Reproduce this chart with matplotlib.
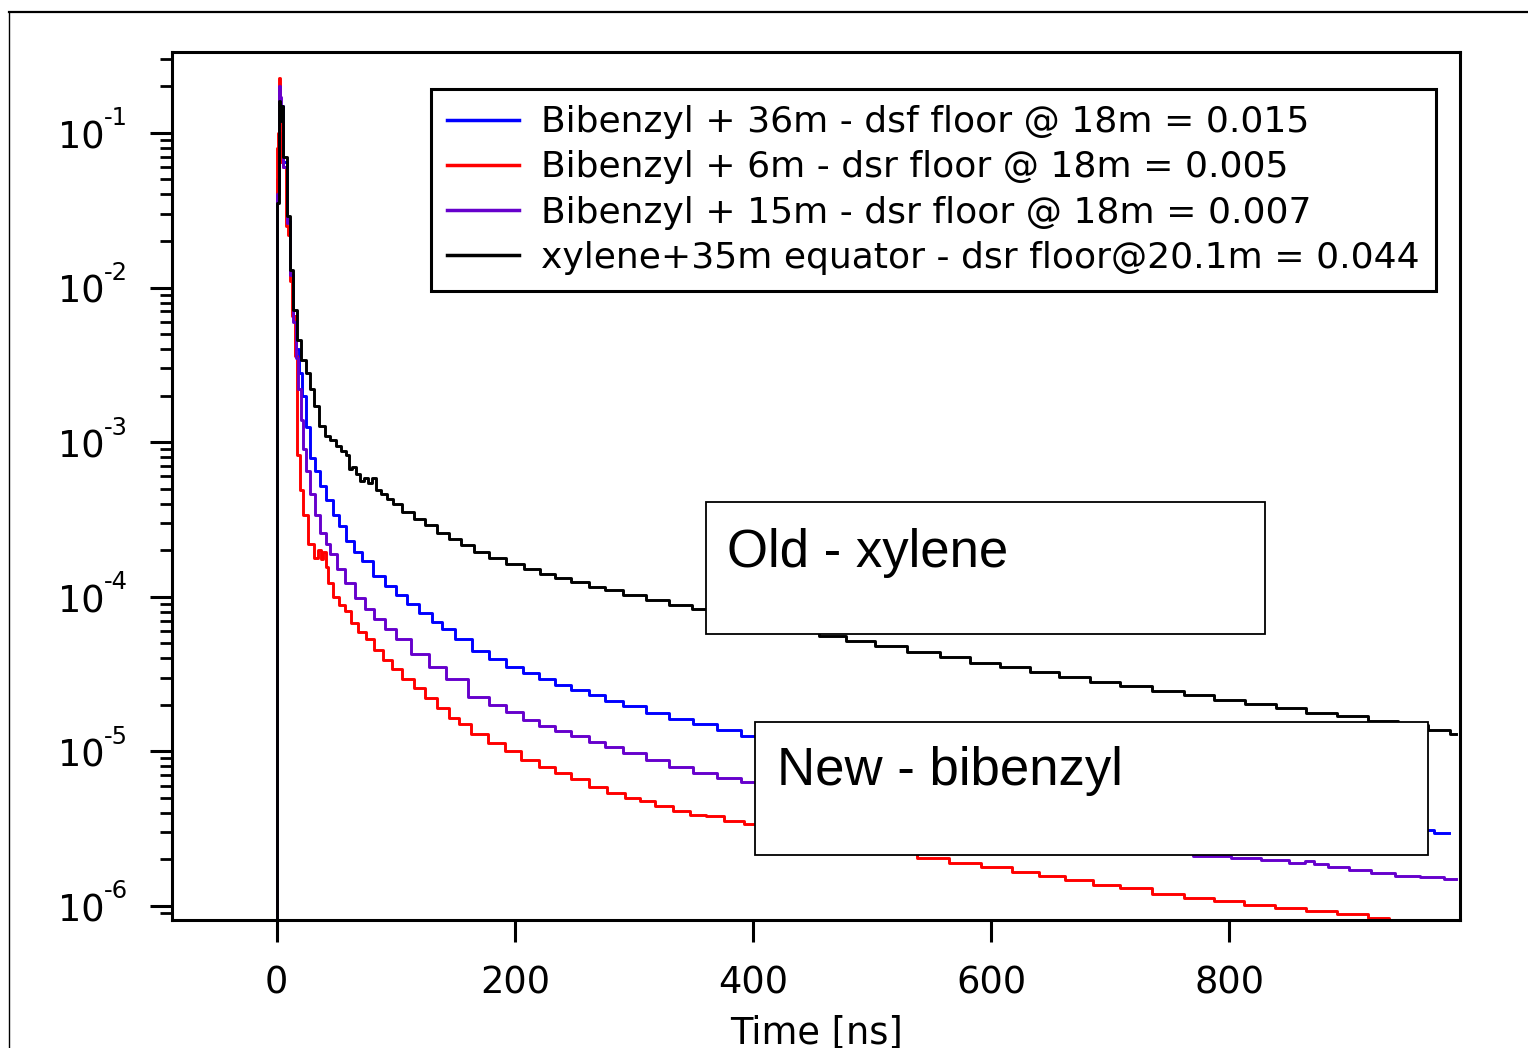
import numpy as np
import matplotlib
matplotlib.use("Agg")
import matplotlib.pyplot as plt
from matplotlib.lines import Line2D
from matplotlib.patches import Rectangle
from matplotlib.ticker import LogLocator, NullFormatter, FixedLocator

# decay curves (time in ns, normalised counts)
blue_t = [0, 1, 2, 3, 4, 6.5, 10, 12.5, 15, 18, 20, 23, 26, 30, 34, 38, 44, 50, 55, 61, 68, 75,
          86, 95, 105, 114, 125, 135, 143, 157, 171, 185, 200, 214, 227, 240, 255, 270, 282,
          300, 320, 339, 360, 380, 400, 450, 500, 550, 600, 650, 700, 750, 800, 850, 900,
          935, 960, 985]
blue_y = [5e-7, 0.05, 0.17, 0.12, 0.15, 0.065, 0.027, 0.012, 6.5e-3, 4.0e-3, 2.8e-3, 2.0e-3,
          1.25e-3, 7.9e-4, 6.5e-4, 5.2e-4, 4.2e-4, 3.4e-4, 2.85e-4, 2.3e-4, 1.95e-4, 1.7e-4,
          1.36e-4, 1.18e-4, 1.03e-4, 9.0e-5, 7.9e-5, 6.9e-5, 6.2e-5, 5.3e-5, 4.45e-5, 3.95e-5,
          3.5e-5, 3.2e-5, 2.94e-5, 2.7e-5, 2.5e-5, 2.3e-5, 2.13e-5, 1.95e-5, 1.78e-5, 1.63e-5,
          1.5e-5, 1.37e-5, 1.26e-5, 1.05e-5, 8.9e-6, 7.7e-6, 6.7e-6, 5.9e-6, 5.2e-6, 4.6e-6,
          4.15e-6, 3.75e-6, 3.4e-6, 3.2e-6, 3.1e-6, 2.95e-6]

red_t = [0, 0.5, 1.5, 2, 3, 4, 6.5, 8.5, 10, 12, 14, 16, 17.6, 21, 23.5, 29.5, 33, 36, 38, 40,
         42, 44.5, 50, 55, 59, 65, 72, 78, 86, 93, 101, 110, 120, 129, 140, 150, 156, 170, 185,
         198, 213, 227, 240, 255, 270, 285, 300, 311, 325, 340, 355, 366, 385, 400, 450, 500,
         525, 551, 578, 605, 630, 650, 675, 697, 720, 750, 775, 800, 825, 852, 878, 904, 929,
         940]
red_y = [5e-7, 0.08, 0.1, 0.227, 0.1, 0.065, 0.06, 0.025, 0.022, 0.011, 6.5e-3, 3.6e-3,
         8.3e-4, 4.9e-4, 3.4e-4, 2.2e-4, 1.78e-4, 2.0e-4, 1.75e-4, 1.95e-4, 1.55e-4, 1.23e-4,
         1.0e-4, 8.8e-5, 8.1e-5, 6.8e-5, 5.9e-5, 5.3e-5, 4.5e-5, 3.9e-5, 3.4e-5, 2.95e-5,
         2.55e-5, 2.2e-5, 1.9e-5, 1.65e-5, 1.5e-5, 1.3e-5, 1.13e-5, 1.0e-5, 8.8e-6, 7.9e-6,
         7.2e-6, 6.6e-6, 5.9e-6, 5.4e-6, 5.0e-6, 4.8e-6, 4.4e-6, 4.1e-6, 3.9e-6, 3.8e-6,
         3.55e-6, 3.4e-6, 2.8e-6, 2.4e-6, 2.2e-6, 2.04e-6, 1.9e-6, 1.78e-6, 1.65e-6, 1.55e-6,
         1.46e-6, 1.37e-6, 1.3e-6, 1.2e-6, 1.13e-6, 1.07e-6, 1.02e-6, 9.7e-7, 9.2e-7, 8.8e-7,
         8.3e-7, 7.5e-7]

purple_t = [0, 1, 2, 3, 4, 6.5, 10, 12.5, 15, 17, 19, 21, 23.5, 26, 30, 34, 39, 43, 47, 54, 61,
            70, 78, 86, 95, 105, 120, 135, 150, 171, 185, 200, 214, 227, 240, 255, 270, 282,
            300, 320, 339, 360, 380, 400, 450, 500, 550, 600, 650, 700, 750, 790, 813, 840,
            860, 867, 875, 891, 910, 929, 950, 970, 991]
purple_y = [5e-7, 0.04, 0.2, 0.17, 0.12, 0.06, 0.026, 0.012, 6.0e-3, 3.5e-3, 2.2e-3, 1.4e-3,
            9.0e-4, 6.5e-4, 4.6e-4, 3.4e-4, 2.6e-4, 2.2e-4, 1.9e-4, 1.5e-4, 1.23e-4, 9.8e-5,
            8.3e-5, 7.2e-5, 6.2e-5, 5.3e-5, 4.27e-5, 3.5e-5, 2.95e-5, 2.25e-5, 2.0e-5, 1.8e-5,
            1.6e-5, 1.46e-5, 1.35e-5, 1.25e-5, 1.15e-5, 1.07e-5, 9.8e-6, 8.8e-6, 7.9e-6,
            7.2e-6, 6.7e-6, 6.3e-6, 5.1e-6, 4.2e-6, 3.5e-6, 3.0e-6, 2.6e-6, 2.35e-6, 2.2e-6,
            2.1e-6, 2.04e-6, 1.97e-6, 1.9e-6, 1.95e-6, 1.88e-6, 1.78e-6, 1.7e-6, 1.63e-6,
            1.57e-6, 1.53e-6, 1.5e-6]

black_t = [0, 1, 2, 3, 4, 6.5, 10, 12.5, 15, 18.5, 22.5, 26, 29, 33, 38, 43, 47, 52, 56, 60,
           62, 65, 68, 72, 75, 78, 82, 85, 90, 95, 101, 110, 120, 129, 140, 150, 160, 171,
           185, 200, 215, 227, 240, 255, 270, 282, 300, 320, 339, 358, 380, 400, 425, 445,
           466, 490, 515, 544, 570, 595, 620, 645, 670, 697, 720, 750, 775, 800, 826, 852,
           878, 904, 929, 955, 980, 991]
black_y = [5e-7, 0.035, 0.16, 0.12, 0.15, 0.07, 0.029, 0.013, 7.2e-3, 4.6e-3, 3.4e-3,
           2.8e-3, 2.2e-3, 1.7e-3, 1.27e-3, 1.1e-3, 1.03e-3, 9.5e-4, 8.8e-4, 8.3e-4, 6.7e-4,
           6.9e-4, 6.2e-4, 5.6e-4, 5.9e-4, 5.4e-4, 5.9e-4, 4.9e-4, 4.6e-4, 4.3e-4, 4.0e-4,
           3.55e-4, 3.2e-4, 2.9e-4, 2.6e-4, 2.35e-4, 2.15e-4, 1.96e-4, 1.78e-4, 1.63e-4,
           1.5e-4, 1.4e-4, 1.32e-4, 1.24e-4, 1.16e-4, 1.1e-4, 1.02e-4, 9.5e-5, 8.9e-5, 8.3e-5,
           7.7e-5, 7.2e-5, 6.6e-5, 6.1e-5, 5.6e-5, 5.2e-5, 4.8e-5, 4.4e-5, 4.05e-5, 3.75e-5,
           3.5e-5, 3.25e-5, 3.02e-5, 2.8e-5, 2.63e-5, 2.45e-5, 2.3e-5, 2.15e-5, 2.02e-5,
           1.9e-5, 1.78e-5, 1.68e-5, 1.58e-5, 1.48e-5, 1.38e-5, 1.3e-5]

labels = ["Bibenzyl + 36m - dsf floor @ 18m = 0.015",
          "Bibenzyl + 6m - dsr floor @ 18m = 0.005",
          "Bibenzyl + 15m - dsr floor @ 18m = 0.007",
          "xylene+35m equator - dsr floor@20.1m = 0.044"]
colors = ["#0000ff", "#ff0000", "#6600cc", "#000000"]
x_ticks = [0, 200, 400, 600, 800]
y_decades = [-1, -2, -3, -4, -5, -6]

plt.rcParams['font.family'] = ['DejaVu Sans']

fig = plt.figure(figsize=(15.28, 10.48), dpi=100)
ax = fig.add_axes([0.1126, 0.1221, 0.8429, 0.8283])

series = [(blue_t, blue_y), (red_t, red_y), (purple_t, purple_y), (black_t, black_y)]
for (t, y), c, lab in zip(series, colors, labels):
    ax.plot(t, y, color=c, lw=2.1, drawstyle='steps-mid', label=lab)

ax.set_yscale('log')
ax.set_xlim(-88, 994)
ax.set_ylim(8.1e-7, 0.334)
ax.xaxis.set_major_locator(FixedLocator(x_ticks))
ax.yaxis.set_major_locator(FixedLocator([10.0 ** d for d in y_decades]))
ax.yaxis.set_major_formatter(NullFormatter())
ax.yaxis.set_minor_locator(LogLocator(base=10, subs=np.arange(2, 10), numticks=100))
ax.yaxis.set_minor_formatter(NullFormatter())

# decade labels drawn as "10" plus a raised "-n", like the original
for d in y_decades:
    ax.annotate("10", xy=(0, 10.0 ** d), xycoords=('axes fraction', 'data'),
                xytext=(-48.5, -3.5), textcoords='offset points',
                ha='right', va='center', fontsize=26.5)
    ax.annotate("-%d" % (-d), xy=(0, 10.0 ** d), xycoords=('axes fraction', 'data'),
                xytext=(-48.8, 10.5), textcoords='offset points',
                ha='left', va='center', fontsize=17.5)

for s in ax.spines.values():
    s.set_linewidth(2.2)
ax.tick_params(axis='both', which='major', direction='out', width=2.2, labelsize=26.5)
ax.tick_params(axis='x', which='major', length=16, pad=16)
ax.tick_params(axis='y', which='major', length=16)
ax.tick_params(axis='y', which='minor', direction='out', length=8.6, width=2.0)
ax.set_xlabel("Time [ns]", fontsize=26.5, labelpad=9)

leg = ax.legend(loc='upper left', bbox_to_anchor=(0.2010, 0.9574), borderaxespad=0,
                fontsize=26, handlelength=2.0, handletextpad=0.6, labelspacing=0.31,
                borderpad=0.45, fancybox=False, framealpha=1)
leg.get_frame().set_edgecolor('black')
leg.get_frame().set_linewidth(2.2)
for h in leg.get_lines():
    h.set_linewidth(2.5)

# text boxes laid over the curves
boxes = [((0.4146, 0.3295), 0.4340, 0.1521, (0.4309, 0.4067), "Old - xylene"),
         ((0.4526, 0.0749), 0.5226, 0.1532, (0.4697, 0.1555), "New - bibenzyl")]
for (x0, y0), w, h, (tx, ty), txt in boxes:
    ax.add_patch(Rectangle((x0, y0), w, h, transform=ax.transAxes, facecolor='white',
                           edgecolor='black', lw=1.3, zorder=10))
    ax.text(tx, ty, txt, transform=ax.transAxes, fontsize=38, family='Liberation Sans',
            va='baseline', ha='left', zorder=11)

# outer frame of the exported graph window
fig.add_artist(Line2D([0.0062, 1.0], [0.9885, 0.9885], transform=fig.transFigure,
                      color='black', lw=1.6))
fig.add_artist(Line2D([0.0062, 0.0062], [0.0, 0.9885], transform=fig.transFigure,
                      color='black', lw=1.0))

fig.savefig("out.png", dpi=100)
